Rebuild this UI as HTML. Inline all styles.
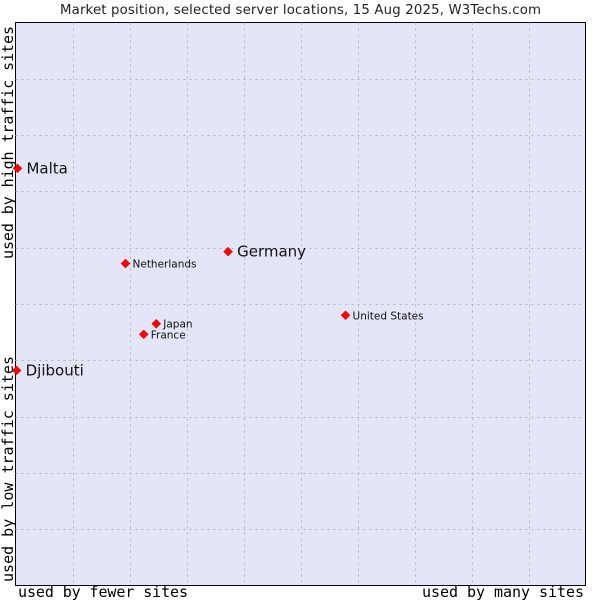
<!DOCTYPE html>
<html><head><meta charset="utf-8"><style>
body{margin:0;background:#fff;width:600px;height:600px;overflow:hidden}
svg{display:block}
.mono{font-family:"DejaVu Sans Mono","Liberation Mono",monospace;font-size:15px;fill:#000}
</style></head><body>
<svg id="c" width="600" height="600">
<text x="60" y="14" textLength="481" font-family="DejaVu Sans, Liberation Sans, sans-serif" font-size="13.3" fill="#222">Market position, selected server locations, 15 Aug 2025, W3Techs.com</text>
<rect x="15.5" y="22.5" width="570" height="563" fill="#e3e5f8" stroke="#000" stroke-width="1"/>
<g id="grid"></g>
<g id="pts"></g>
<text class="mono" x="18" y="597" textLength="170">used by fewer sites</text>
<text class="mono" x="422" y="597" textLength="162">used by many sites</text>
<text class="mono" transform="translate(13,259) rotate(-90)" textLength="233">used by high traffic sites</text>
<text class="mono" transform="translate(13,582) rotate(-90)" textLength="226">used by low traffic sites</text>
</svg>
<script>
const names=["Malta","Djibouti","Germany","Netherlands","Japan","France","United States"];
const xVals=[0.35,0.2,37.3,19.3,24.7,22.5,57.9];
const yVals=[74.1,38.2,59.3,57.2,46.5,44.6,48.0];
const bigLabel=[true,true,true,false,false,false,false];
const L=15.5,T=22.5,W=570,H=563;
const sx=v=>L+v/100*W, sy=v=>T+H-v/100*H;
const NS="http://www.w3.org/2000/svg";
const grid=document.getElementById('grid'), pts=document.getElementById('pts');
for(let i=1;i<10;i++){
  const x=Math.round(L+i*W/10)+0.5;
  const l=document.createElementNS(NS,'line');
  l.setAttribute('x1',x);l.setAttribute('x2',x);l.setAttribute('y1',T);l.setAttribute('y2',T+H);
  l.setAttribute('stroke','#b4b4b4');l.setAttribute('stroke-dasharray','2,4');
  
  
  grid.appendChild(l);
  const y=Math.round(T+i*H/10)+0.5;
  const h=document.createElementNS(NS,'line');
  h.setAttribute('y1',y);h.setAttribute('y2',y);h.setAttribute('x1',L);h.setAttribute('x2',L+W);
  h.setAttribute('stroke','#b4b4b4');h.setAttribute('stroke-dasharray','2,4');
  
  
  grid.appendChild(h);
}
names.forEach((n,i)=>{
  const x=sx(xVals[i]),y=sy(yVals[i]);
  const d=document.createElementNS(NS,'path');
  d.setAttribute('d',`M${x-4.5},${y}L${x},${y-4.5}L${x+4.5},${y}L${x},${y+4.5}Z`);
  d.setAttribute('fill','#f00');d.setAttribute('stroke','#c00');d.setAttribute('stroke-width','0.5');
  
  
  pts.appendChild(d);
  const t=document.createElementNS(NS,'text');
  t.setAttribute('x',x+(bigLabel[i]?9:7));t.setAttribute('y',y+(bigLabel[i]?5:4));
  t.setAttribute('font-family','DejaVu Sans, Liberation Sans, sans-serif');
  t.setAttribute('font-size',bigLabel[i]?'15':'10.5');t.setAttribute('fill','#111');
  t.textContent=n;
  
  
  pts.appendChild(t);
});
</script>
</body></html>
